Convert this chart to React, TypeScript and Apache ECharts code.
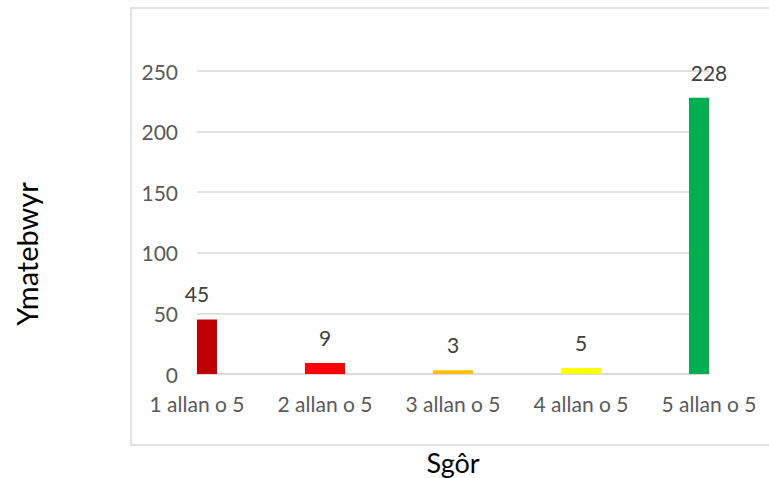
import React, { useEffect, useRef } from "react";
import * as echarts from "echarts";

const categories = ["1 allan o 5", "2 allan o 5", "3 allan o 5", "4 allan o 5", "5 allan o 5"];
const responses = [45, 9, 3, 5, 228];
const barColors = ["#C00000", "#FF0000", "#FFC000", "#FFFF00", "#00B050"];
const xTitle = "Sgôr";
const yTitle = "Ymatebwyr";

export default function App() {
  const ref = useRef<HTMLDivElement>(null);
  useEffect(() => {
    document.body.style.margin = "0";
    const chart = echarts.init(ref.current!, null, { renderer: "svg" });
    const font = "Lato, 'Open Sans', sans-serif";
    const barW = 40;
    chart.setOption({
      animation: false,
      textStyle: { fontFamily: font },
      graphic: [
        {
          type: "rect",
          shape: { x: 131, y: 8, width: 700, height: 437 },
          style: { fill: "none", stroke: "#d9d9d9", lineWidth: 1.5 },
          silent: true,
        },
        {
          type: "text",
          x: 453,
          y: 462,
          style: { text: xTitle, fill: "#000", font: `27px ${font}`, align: "center", verticalAlign: "middle" },
          silent: true,
        },
        {
          type: "text",
          x: 26,
          y: 254,
          rotation: Math.PI / 2,
          style: { text: yTitle, fill: "#000", font: `29px ${font}`, align: "center", verticalAlign: "middle" },
          silent: true,
        },
      ],
      grid: { left: 197, right: 60, top: 71, bottom: 104, containLabel: false, outerBoundsMode: "none" },
      xAxis: {
        type: "category",
        data: categories,
        boundaryGap: false,
        axisLine: { lineStyle: { color: "#d9d9d9", width: 1.5 } },
        axisTick: { show: false },
        axisLabel: { color: "#595959", fontSize: 21, fontFamily: font, margin: 19 },
      },
      yAxis: {
        type: "value",
        min: 0,
        max: 250,
        interval: 50,
        axisLine: { show: false },
        axisTick: { show: false },
        splitLine: { lineStyle: { color: "#d9d9d9", width: 1.5 } },
        axisLabel: { color: "#595959", fontSize: 21, fontFamily: font, margin: 19 },
      },
      series: [
        {
          type: "custom",
          clip: true,
          encode: { x: 0, y: 1 },
          data: responses.map((v, i) => [i, v]),
          renderItem: (params: any, api: any) => {
            const i = api.value(0);
            const v = api.value(1);
            const top = api.coord([i, v]);
            const base = api.coord([i, 0]);
            return {
              type: "rect",
              shape: { x: top[0] - barW / 2, y: top[1], width: barW, height: base[1] - top[1] },
              style: { fill: barColors[params.dataIndex] },
            };
          },
          z: 2,
        },
        {
          type: "bar",
          barWidth: barW,
          data: responses,
          itemStyle: { color: "rgba(0,0,0,0)" },
          label: {
            show: true,
            position: "top",
            distance: 15,
            color: "#404040",
            fontSize: 21,
            fontFamily: font,
          },
          z: 3,
        },
      ],
    });
    return () => chart.dispose();
  }, []);
  return <div ref={ref} style={{ width: 769, height: 478 }} />;
}
